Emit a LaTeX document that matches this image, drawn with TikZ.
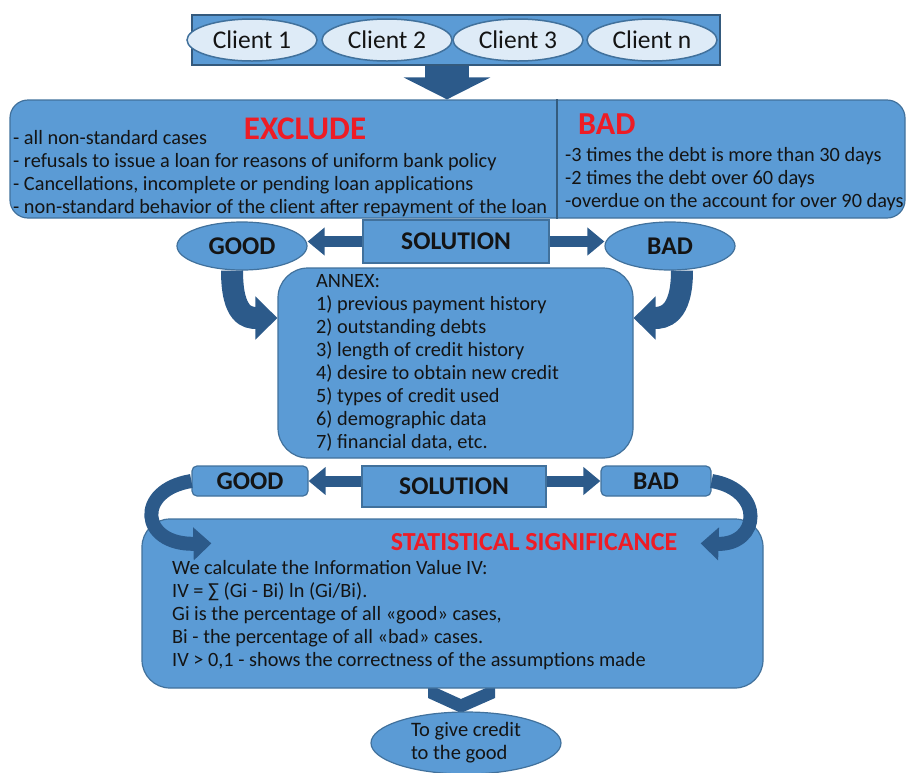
\documentclass[tikz,border=0pt]{standalone}
\usepackage{fontspec}
\setmainfont{Carlito}
\usetikzlibrary{arrows.meta,shapes.geometric}
\definecolor{boxblue}{HTML}{5B9BD5}
\definecolor{boxline}{HTML}{41719C}
\definecolor{lightell}{HTML}{DEEBF7}
\definecolor{arrowblue}{HTML}{2C5A8A}
\definecolor{titlered}{HTML}{EE1C25}
\definecolor{txtcol}{HTML}{141414}
\begin{document}
\begin{tikzpicture}[x=1pt,y=-1pt,
  box/.style={draw=boxline,fill=boxblue,line width=1.2pt,inner sep=0pt,text=txtcol},
  rbox/.style={box,rounded corners=#1},
  clientell/.style={ellipse,draw=boxline,fill=lightell,line width=1.5pt,inner sep=0pt,
     minimum width=130pt,minimum height=42pt,font=\fontsize{25.5}{28}\selectfont,text=txtcol},
  lbl/.style={font=\fontsize{25.5}{28}\selectfont\bfseries},
  title/.style={font=\fontsize{33}{36}\selectfont\bfseries,text=titlered,inner sep=0pt},
  txt/.style={anchor=north west,inner sep=0pt,align=left,text=txtcol,font=\fontsize{20.3}{23}\selectfont},
  harrow/.style={draw=arrowblue,line width=11pt,-{Triangle[width=27pt,length=17pt]}},
  carrow/.style={draw=arrowblue,line width=22pt,-{Triangle[width=42pt,length=22pt]}},
  carrowb/.style={draw=arrowblue,line width=14pt,-{Triangle[width=32pt,length=18pt]}}
]
\useasboundingbox (0,0) rectangle (908,772);
% top bar with clients
\node[draw=boxline!80!black,fill=boxblue,line width=1.5pt,minimum width=528pt,minimum height=50pt,inner sep=0pt] (bar) at (456,40) {};
\node[clientell] (c1) at (252,40) {Client 1};
\node[clientell] (c2) at (387,40) {Client 2};
\node[clientell] (c3) at (518,40) {Client 3};
\node[clientell] (cn) at (652,40) {Client n};
% exclude / bad box
\node[rbox=18pt,minimum width=895pt,minimum height=118pt] (excl) at (457.5,159) {};
\draw[boxline!80!black,line width=1.2pt] ([xshift=99.5pt]excl.north) -- ([xshift=99.5pt]excl.south);
\draw[draw=arrowblue,line width=44pt,-{Triangle[width=86pt,length=22pt]}] ([xshift=-9pt]bar.south) -- ([xshift=-10.5pt]excl.north);
\node[title,anchor=base] (exclh) at (305,139) {EXCLUDE};
\node[title,font=\fontsize{32}{36}\selectfont\bfseries,anchor=base west] (badh) at (578,134) {BAD};
\node[txt] (exclt) at (13,128) {\strut- all non-standard cases\\- refusals to issue a loan for reasons of uniform bank policy\\- Cancellations, incomplete or pending loan applications\\- non-standard behavior of the client after repayment of the loan};
\node[txt] (badt) at (565,145) {\strut-3 times the debt is more than 30 days\\-2 times the debt over 60 days\\-overdue on the account for over 90 days};
% first solution row
\node[box,minimum width=186pt,minimum height=43pt,lbl] (sol1) at (456,241.5) {SOLUTION};
\node[box,ellipse,minimum width=130pt,minimum height=48pt,lbl] (good1) at (242,246) {GOOD};
\node[box,ellipse,minimum width=130pt,minimum height=48pt,lbl] (bad1) at (670,246) {BAD};
\draw[harrow] (sol1.west) -- (sol1.west -| good1.east);
\draw[harrow] (sol1.east) -- (sol1.east -| bad1.west);
% annex
\node[rbox=30pt,minimum width=355pt,minimum height=190pt] (annex) at (455.5,363) {};
\node[txt] (annext) at (316,271) {\strut ANNEX:\\1) previous payment history\\2) outstanding debts\\3) length of credit history\\4) desire to obtain new credit\\5) types of credit used\\6) demographic data\\7) financial data, etc.};
\draw[carrow] ([xshift=-10pt]good1.south) .. controls +(0,45) and +(-30,0) .. ([yshift=45pt]annex.west);
\draw[carrow] ([xshift=12pt]bad1.south) .. controls +(0,45) and +(30,0) .. ([yshift=45pt]annex.east);
% second solution row
\node[rbox=5pt,minimum width=116pt,minimum height=30pt,lbl] (good2) at (250,481) {GOOD};
\node[box,minimum width=184pt,minimum height=41pt,lbl] (sol2) at (454,486.5) {SOLUTION};
\node[rbox=5pt,minimum width=110pt,minimum height=30pt,lbl] (bad2) at (656,481) {BAD};
\draw[harrow] (sol2.west |- good2.east) -- (good2.east);
\draw[harrow] (sol2.east |- bad2.west) -- (bad2.west);
% chevron
\fill[arrowblue] (428,684) -- (428,698) -- (461,713) -- (495,698) -- (495,684) -- (461,699) -- cycle;
% statistical significance
\node[rbox=28pt,minimum width=621pt,minimum height=169pt] (stat) at (452.5,603.5) {};
\draw[carrowb] (good2.west) .. controls (135,490) and (140,545) .. ([xshift=70pt,yshift=-25pt]stat.north west);
\draw[carrowb] (bad2.east) .. controls (765,490) and (760,545) .. ([xshift=-63pt,yshift=-25pt]stat.north east);
\node[title,font=\fontsize{26}{29}\selectfont\bfseries,anchor=base] (statt) at (534,550) {STATISTICAL SIGNIFICANCE};
\node[txt] (statx) at (172,558) {\strut We calculate the Information Value IV:\\IV = ∑ (Gi - Bi) ln (Gi/Bi).\\Gi is the percentage of all «good» cases,\\Bi - the percentage of all «bad» cases.\\IV > 0,1 - shows the correctness of the assumptions made};
% final
\node[box,ellipse,minimum width=190pt,minimum height=62pt,align=left,font=\fontsize{20.5}{23}\selectfont] (final) at (466,743) {To give credit\\to the good};
\end{tikzpicture}
\end{document}
